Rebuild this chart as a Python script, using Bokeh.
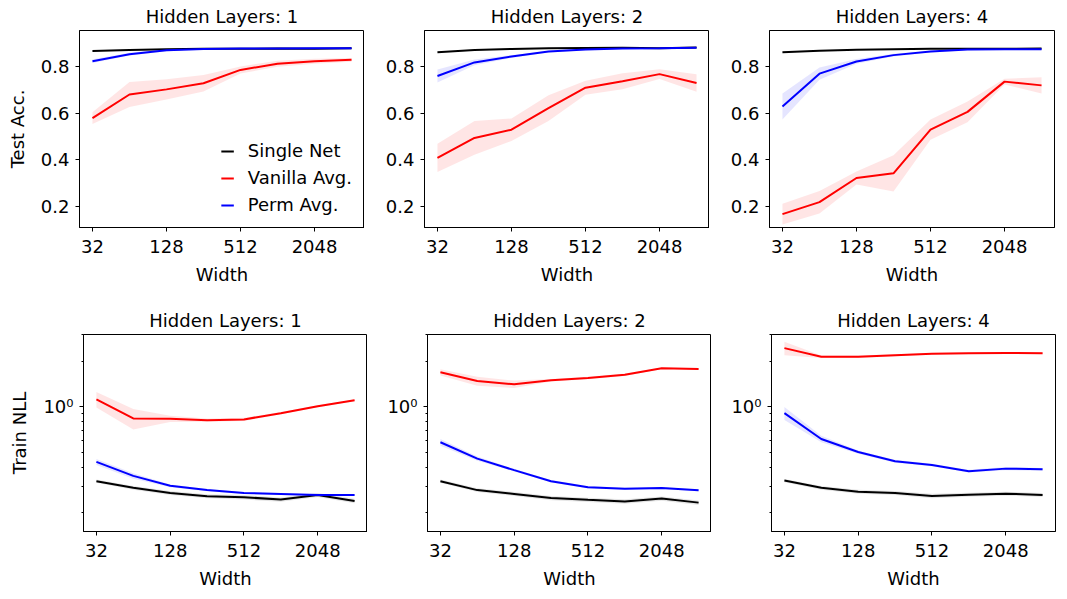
from bokeh.plotting import figure
from bokeh.layouts import column, row
from bokeh.models import Range1d, FixedTicker, PrintfTickFormatter, Legend, LegendItem
from bokeh.embed import file_html
from bokeh.resources import INLINE

widths = [32, 64, 128, 256, 512, 1024, 2048, 4096]
layers = [1, 2, 4]
x_ticks = [32, 128, 512, 2048]
acc_ticks = [0.2, 0.4, 0.6, 0.8]
series_names = ["Single Net", "Vanilla Avg.", "Perm Avg."]

# ---- Test accuracy (top row) ----
acc_single_1 = [0.865, 0.869, 0.872, 0.874, 0.874, 0.875, 0.874, 0.876]
acc_single_2 = [0.859, 0.869, 0.873, 0.876, 0.877, 0.878, 0.876, 0.880]
acc_single_4 = [0.859, 0.866, 0.870, 0.872, 0.874, 0.874, 0.874, 0.875]
acc_single_std_1 = [0.003, 0.002, 0.002, 0.002, 0.002, 0.002, 0.002, 0.002]
acc_single_std_2 = [0.003, 0.002, 0.002, 0.002, 0.002, 0.002, 0.002, 0.002]
acc_single_std_4 = [0.003, 0.002, 0.002, 0.002, 0.002, 0.002, 0.002, 0.002]

acc_vanilla_1 = [0.578, 0.679, 0.701, 0.727, 0.784, 0.810, 0.821, 0.827]
acc_vanilla_2 = [0.409, 0.494, 0.529, 0.621, 0.708, 0.736, 0.766, 0.728]
acc_vanilla_4 = [0.169, 0.220, 0.323, 0.343, 0.529, 0.605, 0.734, 0.718]
acc_vanilla_std_1 = [0.025, 0.053, 0.043, 0.035, 0.015, 0.013, 0.011, 0.008]
acc_vanilla_std_2 = [0.060, 0.072, 0.048, 0.055, 0.030, 0.034, 0.021, 0.037]
acc_vanilla_std_4 = [0.044, 0.048, 0.028, 0.077, 0.043, 0.044, 0.012, 0.035]

acc_perm_1 = [0.821, 0.851, 0.868, 0.873, 0.875, 0.875, 0.876, 0.876]
acc_perm_2 = [0.758, 0.816, 0.841, 0.862, 0.871, 0.875, 0.876, 0.878]
acc_perm_4 = [0.628, 0.768, 0.820, 0.847, 0.862, 0.871, 0.872, 0.872]
acc_perm_std_1 = [0.008, 0.006, 0.004, 0.003, 0.002, 0.002, 0.002, 0.002]
acc_perm_std_2 = [0.028, 0.012, 0.006, 0.004, 0.003, 0.002, 0.002, 0.002]
acc_perm_std_4 = [0.055, 0.026, 0.010, 0.006, 0.004, 0.003, 0.002, 0.002]

# ---- Train NLL (bottom row, log scale) ----
nll_single_1 = [0.324, 0.293, 0.271, 0.258, 0.254, 0.245, 0.263, 0.240]
nll_single_2 = [0.324, 0.283, 0.267, 0.251, 0.244, 0.238, 0.249, 0.234]
nll_single_4 = [0.327, 0.293, 0.276, 0.271, 0.259, 0.264, 0.268, 0.263]
nll_single_std_1 = [0.008, 0.008, 0.008, 0.008, 0.009, 0.008, 0.008, 0.008]
nll_single_std_2 = [0.008, 0.008, 0.008, 0.008, 0.008, 0.008, 0.008, 0.008]
nll_single_std_4 = [0.008, 0.008, 0.008, 0.008, 0.009, 0.008, 0.008, 0.008]

nll_vanilla_1 = [1.122, 0.839, 0.835, 0.818, 0.827, 0.909, 1.010, 1.105]
nll_vanilla_2 = [1.69, 1.48, 1.41, 1.50, 1.55, 1.63, 1.80, 1.78]
nll_vanilla_4 = [2.44, 2.14, 2.14, 2.19, 2.24, 2.26, 2.27, 2.26]
nll_vanilla_std_1 = [0.13, 0.13, 0.04, 0.02, 0.02, 0.015, 0.015, 0.015]
nll_vanilla_std_2 = [0.08, 0.10, 0.08, 0.03, 0.03, 0.03, 0.02, 0.02]
nll_vanilla_std_4 = [0.25, 0.04, 0.04, 0.03, 0.03, 0.03, 0.03, 0.03]

nll_perm_1 = [0.434, 0.351, 0.302, 0.283, 0.271, 0.267, 0.263, 0.263]
nll_perm_2 = [0.585, 0.456, 0.383, 0.324, 0.296, 0.289, 0.292, 0.282]
nll_perm_4 = [0.910, 0.615, 0.504, 0.438, 0.414, 0.377, 0.392, 0.388]
nll_perm_std_1 = [0.020, 0.015, 0.006, 0.005, 0.004, 0.004, 0.004, 0.004]
nll_perm_std_2 = [0.030, 0.015, 0.008, 0.006, 0.005, 0.004, 0.005, 0.004]
nll_perm_std_4 = [0.090, 0.030, 0.012, 0.010, 0.008, 0.008, 0.010, 0.008]

acc_data = {
    1: [(acc_single_1, acc_single_std_1), (acc_vanilla_1, acc_vanilla_std_1), (acc_perm_1, acc_perm_std_1)],
    2: [(acc_single_2, acc_single_std_2), (acc_vanilla_2, acc_vanilla_std_2), (acc_perm_2, acc_perm_std_2)],
    4: [(acc_single_4, acc_single_std_4), (acc_vanilla_4, acc_vanilla_std_4), (acc_perm_4, acc_perm_std_4)],
}
nll_data = {
    1: [(nll_single_1, nll_single_std_1), (nll_vanilla_1, nll_vanilla_std_1), (nll_perm_1, nll_perm_std_1)],
    2: [(nll_single_2, nll_single_std_2), (nll_vanilla_2, nll_vanilla_std_2), (nll_perm_2, nll_perm_std_2)],
    4: [(nll_single_4, nll_single_std_4), (nll_vanilla_4, nll_vanilla_std_4), (nll_perm_4, nll_perm_std_4)],
}

COLORS = ["black", "red", "blue"]
FONT = "DejaVu Sans"
FS = "18px"

X_LO, X_HI = 2 ** 4.65, 2 ** 12.35
FRAME_H = 197


def make_fig(layer, data, kind, left, right, top_b, bottom, fw):
    log_y = kind == "nll"
    p = figure(
        frame_width=fw, frame_height=FRAME_H,
        min_border_left=left, min_border_right=right,
        min_border_top=top_b, min_border_bottom=bottom,
        x_axis_type="log", y_axis_type="log" if log_y else "linear",
        x_range=Range1d(X_LO, X_HI),
        y_range=Range1d(0.151, 3.0) if log_y else Range1d(0.112, 0.952),
        output_backend="svg", toolbar_location=None,
        title="Hidden Layers: %d" % layer,
    )
    p.title.align = "center"
    p.title.text_font = FONT
    p.title.text_font_size = FS
    p.title.text_font_style = "normal"
    p.title.text_color = "black"
    p.title.standoff = 7
    p.grid.visible = False
    p.outline_line_color = "black"
    p.outline_line_alpha = 1.0
    p.outline_line_width = 1
    p.background_fill_color = "white"
    p.border_fill_color = "white"

    for ax in (p.xaxis[0], p.yaxis[0]):
        ax.axis_line_color = "black"
        ax.major_tick_line_color = "black"
        ax.minor_tick_line_color = "black"
        ax.major_tick_in = 0
        ax.major_tick_out = 4
        ax.minor_tick_in = 0
        ax.minor_tick_out = 2
        ax.major_label_text_font = FONT
        ax.major_label_text_font_size = FS
        ax.major_label_text_color = "black"
        ax.axis_label_text_font = FONT
        ax.axis_label_text_font_size = FS
        ax.axis_label_text_font_style = "normal"
        ax.axis_label_text_color = "black"

    p.xaxis.ticker = FixedTicker(ticks=x_ticks, minor_ticks=[])
    p.xaxis.formatter = PrintfTickFormatter(format="%d")
    p.xaxis.axis_label = "Width"
    p.xaxis.major_label_standoff = 8
    p.xaxis.axis_label_standoff = 8
    p.yaxis.major_label_standoff = 6
    p.yaxis.axis_label_standoff = 10

    if log_y:
        p.yaxis.ticker = FixedTicker(ticks=[1.0], minor_ticks=[0.2, 0.3, 0.4, 0.5, 0.6, 0.7, 0.8, 0.9, 2.0, 3.0])
        p.yaxis.major_label_overrides = {1: "10\u2070"}
    else:
        p.yaxis.ticker = FixedTicker(ticks=acc_ticks, minor_ticks=[])
        p.yaxis.formatter = PrintfTickFormatter(format="%.1f")

    renderers = []
    for (mean, std), color in zip(data, COLORS):
        lo = [m - s for m, s in zip(mean, std)]
        hi = [m + s for m, s in zip(mean, std)]
        p.varea(x=widths, y1=lo, y2=hi, fill_color=color, fill_alpha=0.1)
    for (mean, std), color in zip(data, COLORS):
        r = p.line(widths, mean, line_color=color, line_width=2)
        renderers.append(r)
    return p, renderers


top = []
bot = []
# (left border, right border, top border, bottom border, frame width)
top_geom = [(79, 0, 29, 77, 285), (60, 0, 29, 77, 285), (60, 4, 29, 77, 285)]
bot_geom = [(83, 0, 29, 62, 284), (60, 0, 29, 62, 284), (60, 2, 29, 62, 284)]
for i, layer in enumerate(layers):
    l, r, t, b, fw = top_geom[i]
    p, rends = make_fig(layer, acc_data[layer], "acc", l, r, t, b, fw)
    if i == 0:
        p.yaxis.axis_label = "Test Acc."
        legend = Legend(
            items=[LegendItem(label=n, renderers=[rr]) for n, rr in zip(series_names, rends)],
            location="bottom_right",
            border_line_alpha=0, background_fill_alpha=0,
            glyph_width=13, glyph_height=20, label_height=20,
            label_standoff=14, spacing=6, padding=0, margin=12,
            label_text_font=FONT, label_text_font_size=FS, label_text_color="black",
        )
        p.add_layout(legend, "center")
    top.append(p)
    l, r, t, b, fw = bot_geom[i]
    q, _ = make_fig(layer, nll_data[layer], "nll", l, r, t, b, fw)
    if i == 0:
        q.yaxis.axis_label = "Train NLL"
    bot.append(q)

layout = column(row(*top, spacing=0), row(*bot, spacing=0), spacing=0)
open("out.html", "w").write(file_html(layout, INLINE))
